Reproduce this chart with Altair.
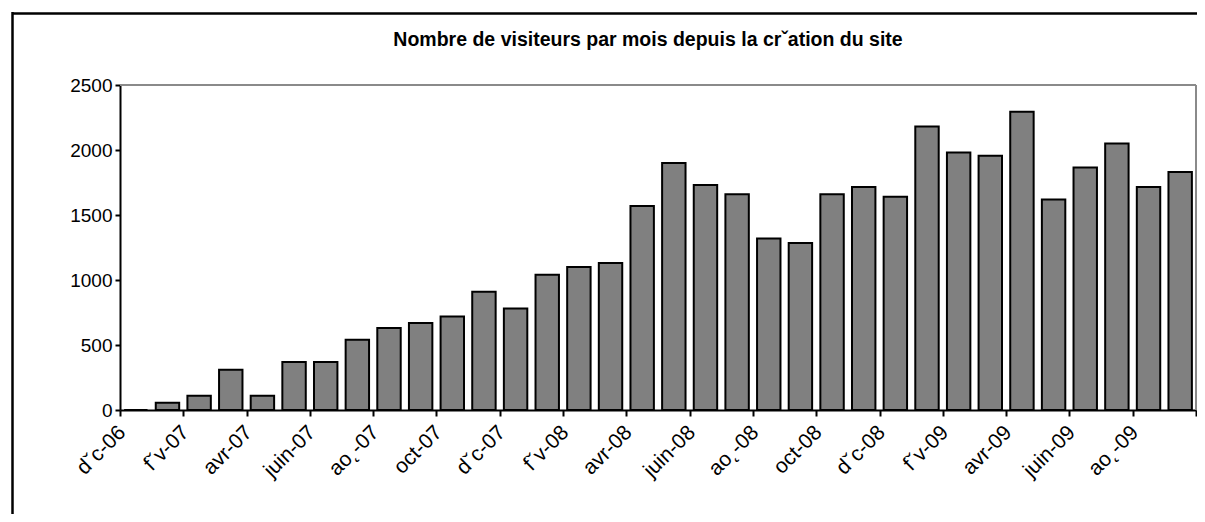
import altair as alt
import pandas as pd

# Month labels (as rendered in the original, with its garbled accents)
months = ["dˇc-06", "janv-07", "fˇv-07", "mars-07", "avr-07", "mai-07", "juin-07", "juil-07",
          "ao˛-07", "sept-07", "oct-07", "nov-07", "dˇc-07", "janv-08", "fˇv-08", "mars-08",
          "avr-08", "mai-08", "juin-08", "juil-08", "ao˛-08", "sept-08", "oct-08", "nov-08",
          "dˇc-08", "janv-09", "fˇv-09", "mars-09", "avr-09", "mai-09", "juin-09", "juil-09",
          "ao˛-09", "sept-09"]
visitors = [0, 55, 110, 310, 110, 370, 370, 540, 630, 670,
            720, 910, 780, 1040, 1100, 1130, 1570, 1900, 1730, 1660,
            1320, 1285, 1660, 1715, 1640, 2180, 1980, 1955, 2295, 1620,
            1865, 2050, 1715, 1830]
y_ticks = [0, 500, 1000, 1500, 2000, 2500]
title_text = "Nombre de visiteurs par mois depuis la crˇation du site"

FONT = "Liberation Sans, Arial, Helvetica, sans-serif"
n = len(months)
y_max = 2500

df = pd.DataFrame({"idx": list(range(n)), "mois": months, "visiteurs": visitors})

label_array = "[" + ",".join("'" + m + "'" for m in months) + "]"
label_expr = f"datum.value < {n} ? {label_array}[datum.value] : ''"

x_scale = alt.Scale(domain=[0, n], nice=False, zero=False)
y_scale = alt.Scale(domain=[0, y_max], nice=False)

bars = alt.Chart(df).transform_calculate(
    x0="datum.idx + 0.13", x1="datum.idx + 0.87"
).mark_bar(color="#808080", stroke="#000000", strokeWidth=2).encode(
    x=alt.X("x0:Q", scale=x_scale, title=None,
            axis=alt.Axis(values=list(range(0, n + 1, 2)), labelExpr=label_expr,
                          labelAngle=-45, labelAlign="right", labelBaseline="middle",
                          labelFontSize=21, labelFont=FONT, labelColor="#000000",
                          labelOverlap=False, labelFlush=False, labelPadding=13,
                          labelOffset=2,
                          tickSize=6, tickWidth=2, tickColor="#000000",
                          domainColor="#000000", domainWidth=2, grid=False)),
    x2="x1:Q",
    y=alt.Y("visiteurs:Q", scale=y_scale, title=None,
            axis=alt.Axis(values=y_ticks, format="d", labelFontSize=19, labelFont=FONT,
                          labelColor="#000000", labelPadding=3, tickSize=5, tickWidth=2,
                          tickColor="#000000", domainColor="#000000", domainWidth=2,
                          grid=False)),
    y2=alt.datum(0),
    tooltip=["mois:N", "visiteurs:Q"],
)

one = pd.DataFrame({"k": [0]})
# gray plot-area border (top and right), placed through the scales
border_top = alt.Chart(one).mark_rule(color="#8a8a8a", strokeWidth=2).encode(
    x=alt.datum(0, scale=x_scale), x2=alt.datum(n), y=alt.datum(y_max, scale=y_scale))
border_right = alt.Chart(one).mark_rule(color="#8a8a8a", strokeWidth=2).encode(
    x=alt.datum(n, scale=x_scale), y=alt.datum(0, scale=y_scale), y2=alt.datum(y_max))

# outer chart frame
frame_top = alt.Chart(one).mark_rule(color="#000000", strokeWidth=2.5).encode(
    x=alt.value(-108), x2=alt.value(1095), y=alt.value(-71.5))
frame_left = alt.Chart(one).mark_rule(color="#000000", strokeWidth=2.5).encode(
    x=alt.value(-107.5), y=alt.value(-73), y2=alt.value(440))

chart = alt.layer(border_top, border_right, bars, frame_top, frame_left).properties(
    width=1076, height=325,
    title=alt.TitleParams(title_text, font=FONT, fontSize=19.5, fontWeight="bold",
                          color="#000000", anchor="middle", frame="group", dx=-10, offset=-40),
    autosize=alt.AutoSizeParams(type="none"),
    padding={"left": 112, "top": 77, "right": 1, "bottom": 104},
).configure_view(strokeWidth=0).configure(background="#ffffff")

chart.save("out.html", embed_options={"renderer": "svg", "actions": False})
